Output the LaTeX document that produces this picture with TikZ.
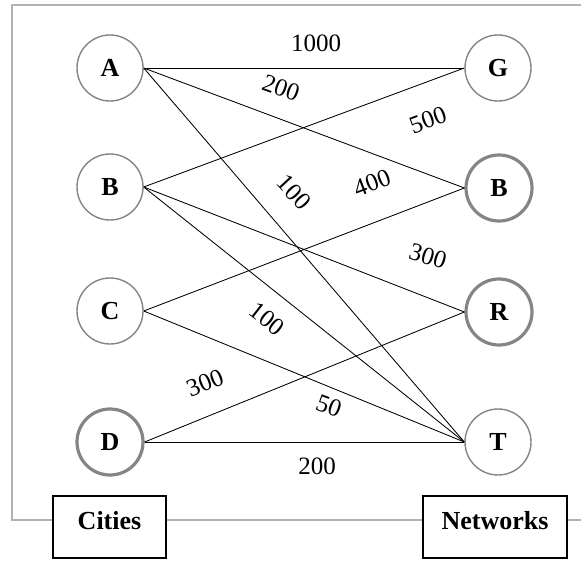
\documentclass[tikz,border=0pt]{standalone}
\usepackage{fontspec}
\setmainfont{Liberation Serif}
\begin{document}
\begin{tikzpicture}[x=1pt,y=-1pt,
  font=\fontsize{25}{29}\selectfont,
  city/.style={circle,draw=black!48,line width=1.4pt,minimum size=66pt,inner sep=0pt,font=\fontsize{26}{30}\selectfont\bfseries},
  thickcity/.style={city,line width=3.2pt},
  link/.style={line width=0.85pt,black},
  wlabel/.style={inner sep=0pt},
  framebox/.style={draw=black!30,line width=2.4pt},
  tagbox/.style={draw=black,line width=1.8pt,fill=white,inner sep=0pt,text height=33pt,text depth=29pt,font=\fontsize{26}{30}\selectfont\bfseries}]
\useasboundingbox (0,0) rectangle (581,560);
\draw[framebox] (590,5) -- (12,5) -- (12,520) -- (590,520);
% left nodes
\node[city] (A) at (110,68) {A};
\node[city] (B) at (110,187) {B};
\node[city] (C) at (110,311) {C};
\node[thickcity] (D) at (110,442) {D};
% right nodes
\node[city] (G) at (498,68) {G};
\node[thickcity] (B2) at (499,188) {B};
\node[thickcity] (R) at (499,312) {R};
\node[city] (T) at (498,442) {T};
% edges
\draw[link] (A.east) -- (G.west);
\draw[link] (A.east) -- (B2.west);
\draw[link] (A.east) -- (T.west);
\draw[link] (B.east) -- (G.west);
\draw[link] (B.east) -- (R.west);
\draw[link] (B.east) -- (T.west);
\draw[link] (C.east) -- (B2.west);
\draw[link] (C.east) -- (T.west);
\draw[link] (D.east) -- (R.west);
\draw[link] (D.east) -- (T.west);
% weights
\node[wlabel] (w1) at (316,43) {1000};
\node[wlabel,rotate=-20] (w2) at (281,88) {200};
\node[wlabel,rotate=20] (w3) at (428,120) {500};
\node[wlabel,rotate=-47] (w4) at (294,192) {100};
\node[wlabel,rotate=21] (w5) at (372,183) {400};
\node[wlabel,rotate=-17] (w6) at (428,256) {300};
\node[wlabel,rotate=-38] (w7) at (267,319) {100};
\node[wlabel,rotate=22] (w8) at (205,383) {300};
\node[wlabel,rotate=-20] (w9) at (329,406) {50};
\node[wlabel] (w10) at (317,466) {200};
% boxes
\node[tagbox,minimum width=113pt] (cities) at (109.5,527) {Cities};
\node[tagbox,minimum width=144pt] (networks) at (495,527) {Networks};
\end{tikzpicture}
\end{document}
